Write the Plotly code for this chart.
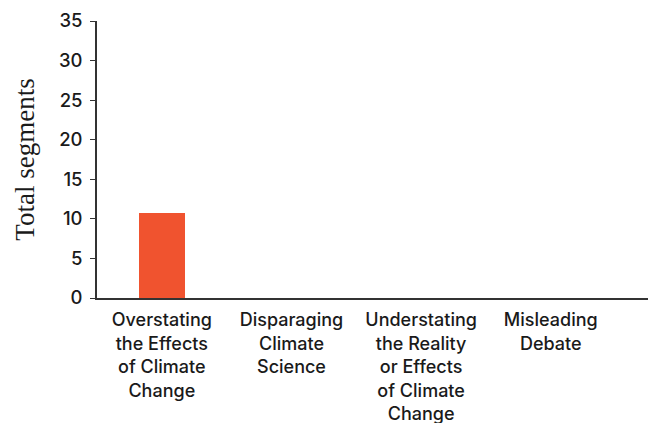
import plotly.graph_objects as go

categories = [
    "Overstating<br>the Effects<br>of Climate<br>Change",
    "Disparaging<br>Climate<br>Science",
    "Understating<br>the Reality<br>or Effects<br>of Climate<br>Change",
    "Misleading<br>Debate",
]
segments = [10.8, 0, 0, 0]
y_ticks = [0, 5, 10, 15, 20, 25, 30, 35]

label_font = dict(family="Inter, Lato, sans-serif", size=18.5, color="#1a1a1a", weight=500)
cat_font = dict(family="Inter, Lato, sans-serif", size=18, color="#1a1a1a", weight=500)

fig = go.Figure(
    go.Bar(
        x=list(range(len(categories))),
        y=segments,
        width=0.35,
        marker=dict(color="#F0532F", line=dict(width=0)),
        hoverinfo="skip",
    )
)

fig.update_layout(
    width=648,
    height=423,
    margin=dict(l=97, r=0, t=21, b=125),
    plot_bgcolor="white",
    paper_bgcolor="white",
    showlegend=False,
    bargap=0,
)

fig.update_xaxes(
    range=[-0.5, 3.75],
    tickmode="array",
    tickvals=list(range(len(categories))),
    ticktext=categories,
    tickfont=cat_font,
    ticks="",
    ticklabelstandoff=5,
    automargin=False,
    showline=True,
    linecolor="#333333",
    linewidth=1.5,
    showgrid=False,
    zeroline=False,
)

fig.update_yaxes(
    range=[0, 35],
    tickmode="array",
    tickvals=y_ticks,
    tickfont=label_font,
    ticks="outside",
    ticklen=5,
    tickwidth=1.2,
    tickcolor="#333333",
    ticklabelstandoff=4,
    automargin=False,
    showline=True,
    linecolor="#333333",
    linewidth=1.5,
    showgrid=False,
    zeroline=False,
    title=dict(
        text="Total segments",
        font=dict(family="Liberation Serif, Times New Roman, serif", size=27, color="#1a1a1a"),
        standoff=17,
    ),
)

fig.write_html("out.html")
